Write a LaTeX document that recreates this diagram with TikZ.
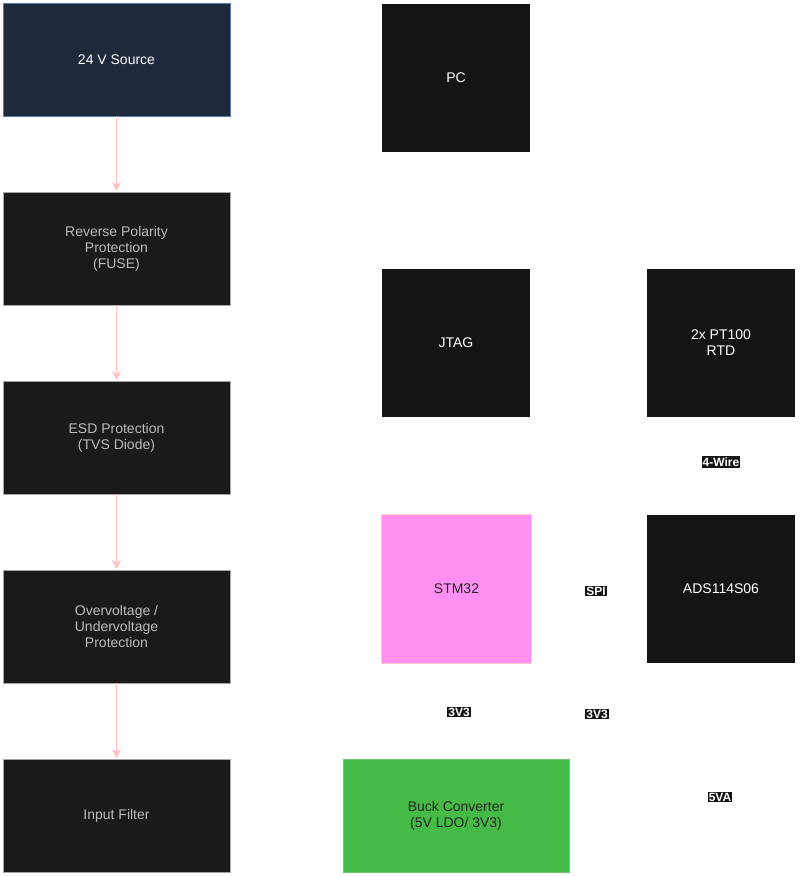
\documentclass[tikz,border=0pt]{standalone}
\usepackage{fontspec}
\setmainfont{Liberation Sans}
\usetikzlibrary{arrows.meta}
\begin{document}
\begin{tikzpicture}[x=1pt,y=-1pt,
  box/.style={draw=#1, line width=1pt, fill=boxdark, text=boxtext, align=center, font=\fontsize{14}{16}\selectfont, inner sep=0pt},
  blk/.style={fill=blkfill, text=white, align=center, font=\fontsize{14}{16}\selectfont, inner sep=0pt},
  lab/.style={fill=blkfill, text=white, font=\bfseries\fontsize{12}{13}\selectfont, inner sep=1.2pt},
  arr/.style={draw=arrpink, line width=1pt, -{Stealth[length=9pt,width=9pt]}}]
\definecolor{boxdark}{HTML}{1A1A1A}
\definecolor{boxtext}{HTML}{BBBBBB}
\definecolor{blkfill}{HTML}{141414}
\definecolor{arrpink}{HTML}{FFC0C0}
\definecolor{srcfill}{HTML}{1E293B}
\definecolor{srcdraw}{HTML}{5A7AA8}
\useasboundingbox (0,0) rectangle (800,876);
\path[box=srcdraw, fill=srcfill] (3,3) rectangle (230,116);
\node[text=white,font=\fontsize{14}{16}\selectfont] (src) at (116.5,59.5) {24 V Source};
\path[box=gray!70] (3,192) rectangle (230,305);
\node[text=boxtext,align=center,font=\fontsize{14}{16}\selectfont] (rev) at (116.5,248.5) {Reverse Polarity\\Protection\\(FUSE)};
\path[box=gray!70] (3,381) rectangle (230,494);
\node[text=boxtext,align=center,font=\fontsize{14}{16}\selectfont] (esd) at (116.5,437.5) {ESD Protection\\(TVS Diode)};
\path[box=gray!70] (3,570) rectangle (230,683);
\node[text=boxtext,align=center,font=\fontsize{14}{16}\selectfont] (ovp) at (116.5,626.5) {Overvoltage /\\Undervoltage\\Protection};
\path[box=gray!70] (3,759) rectangle (230,872);
\node[text=boxtext,align=center,font=\fontsize{14}{16}\selectfont] (flt) at (116.5,815.5) {Input Filter};
\coordinate (a1) at (116.5,116); \coordinate (b1) at (116.5,191);
\coordinate (a2) at (116.5,305); \coordinate (b2) at (116.5,380);
\coordinate (a3) at (116.5,494); \coordinate (b3) at (116.5,569);
\coordinate (a4) at (116.5,683); \coordinate (b4) at (116.5,758);
\draw[arr] (a1) -- (b1);
\draw[arr] (a2) -- (b2);
\draw[arr] (a3) -- (b3);
\draw[arr] (a4) -- (b4);
\node[blk, minimum width=148pt, minimum height=148pt] (pc) at (456,78) {PC};
\node[blk, minimum width=148pt, minimum height=148pt] (jtag) at (456,343) {JTAG};
\node[blk, minimum width=148pt, minimum height=148pt] (pt) at (721,343) {2x PT100\\RTD};
\node[blk, minimum width=148pt, minimum height=148pt] (ads) at (721,589) {ADS114S06};
\node[draw=pink!80!white, line width=1pt, fill={rgb,255:red,255;green,144;blue,242}, minimum width=150pt, minimum height=149pt, font=\fontsize{14}{16}\selectfont, text=black!85] (stm) at (456.5,589) {STM32};
\node[draw={rgb,255:red,110;green,200;blue,110}, line width=1pt, fill={rgb,255:red,70;green,186;blue,70}, minimum width=226pt, minimum height=113pt, align=center, font=\fontsize{14}{16}\selectfont, text=black!85] (buck) at (456,815.5) {Buck Converter\\(5V LDO/ 3V3)};
\node[lab] (l1) at (721,462) {4-Wire};
\node[lab] (l2) at (596,591) {SPI};
\node[lab] (l3) at (459,712) {3V3};
\node[lab] (l4) at (597,714) {3V3};
\node[lab] (l5) at (720,797) {5VA};
\end{tikzpicture}
\end{document}
